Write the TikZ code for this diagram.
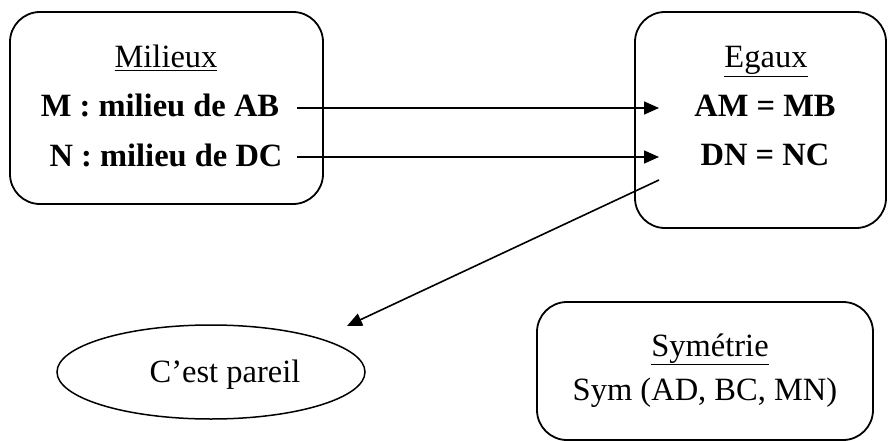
\documentclass[tikz,border=0pt]{standalone}
\usepackage{fontspec}
\setmainfont{Liberation Serif}
\usetikzlibrary{arrows.meta,shapes.geometric}
\begin{document}
\begin{tikzpicture}[x=1pt,y=-1pt,
  box/.style={draw,line width=1.8pt,rounded corners=30pt,inner sep=0pt},
  txt/.style={font=\fontsize{32.5}{38}\selectfont,inner sep=0pt,anchor=base},
  btxt/.style={txt,font=\fontsize{32.5}{38}\selectfont\bfseries},
  conn/.style={line width=1.6pt,-{Triangle[length=15pt,width=13pt]}}]
\useasboundingbox (0,0) rectangle (888,441);
% boxes
\node[box,minimum width=313pt,minimum height=192pt] (milieux) at (166.5,108) {};
\node[box,minimum width=251pt,minimum height=216pt] (egaux) at (760.5,120) {};
\node[box,minimum width=336pt,minimum height=138pt] (sym) at (705,371) {};
\node[draw,ellipse,line width=1.5pt,minimum width=308pt,minimum height=94pt,inner sep=0pt] (pareil) at (211,372) {};
% texts
\node[txt] (t1) at (166,68) {\underline{Milieux}};
\node[btxt] (m1) at (160,117) {M : milieu de AB};
\node[btxt] (m2) at (166,166) {N : milieu de DC};
\node[txt] (t2) at (766,68) {\underline{Egaux}};
\node[btxt] (e1) at (765,117) {AM = MB};
\node[btxt] (e2) at (765,165) {DN = NC};
\node[txt] (t3) at (710,356) {\underline{Symétrie}};
\node[txt] (s1) at (705,400) {Sym (AD, BC, MN)};
\node[txt] (p1) at (225,382) {C’est pareil};
% connectors
\coordinate (a1s) at (297,108);
\coordinate (a1e) at (659,108);
\coordinate (a2s) at (297,157);
\coordinate (a2e) at (659,157);
\coordinate (d0) at (659,180);
\coordinate (d1) at (347,326);
\draw[conn] (a1s) -- (a1e);
\draw[conn] (a2s) -- (a2e);
\draw[conn] (d0) -- (d1);
\end{tikzpicture}
\end{document}
